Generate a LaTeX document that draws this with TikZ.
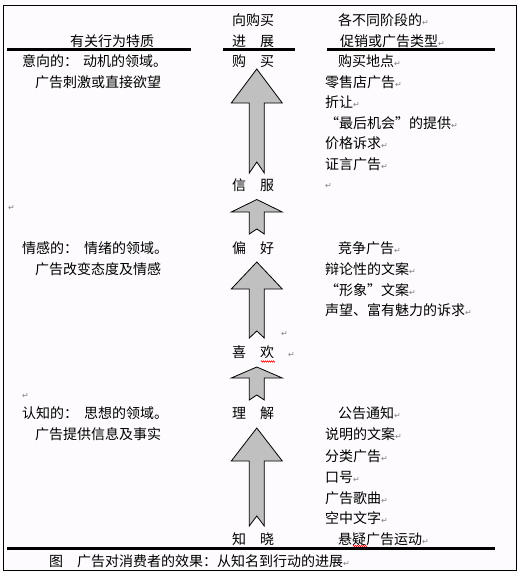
\documentclass[tikz,border=0pt]{standalone}
\usepackage{fontspec}
\setmainfont{Noto Sans CJK SC}
\newfontfamily\symfont{DejaVu Sans}
\usetikzlibrary{decorations.pathmorphing}
\definecolor{bgc}{RGB}{253,251,253}
\definecolor{arrowgray}{RGB}{192,192,192}
\definecolor{markgray}{RGB}{128,128,128}
\newcommand{\pmark}{{\symfont\fontsize{8}{8}\selectfont\textcolor{markgray}{↵}}}
\newcommand{\myoq}{\makebox[14pt][r]{“}}
\newcommand{\mycq}{\makebox[14pt][l]{”}}
\newcommand{\blockarrow}[4]{%
  \path[arrowshape] (256.8,#1) -- (282.3,#2) -- (264.3,#2) -- (264.3,#3)
    -- (256.8,#4) -- (249.3,#3) -- (249.3,#2) -- (231.3,#2) -- cycle;}
\begin{document}
\begin{tikzpicture}[x=1pt,y=-1pt,
  tx/.style={anchor=base west, inner sep=0pt, font=\fontsize{14}{16}\selectfont},
  mk/.style={anchor=base west, inner sep=0pt},
  rule/.style={line width=3pt},
  frame/.style={line width=1pt},
  arrowshape/.style={fill=arrowgray, draw=black, line width=0.8pt, line join=miter},
  spell/.style={draw=red, line width=0.5pt, decorate, decoration={zigzag, segment length=2pt, amplitude=0.7pt}}]
\useasboundingbox (0,0) rectangle (518,573);
\fill[bgc] (0,0) rectangle (518,573);
% frame
\draw[frame] (3.5,5.5) rectangle (516.5,570.5);
% header rules
\draw[rule] (7,49.3) -- (191,49.3);
\draw[rule] (223,49.3) -- (295,49.3);
\draw[rule] (327,49.3) -- (495,49.3);
\draw[rule] (7,548) -- (495,548);
% block arrows
\blockarrow{69}{103}{173}{162}
\blockarrow{199.5}{212}{234}{229}
\blockarrow{262}{289}{338}{331}
\blockarrow{367}{378}{400}{395}
\blockarrow{428}{461}{526}{516}
% headers
\node[tx] (h1) at (70,46.3) {有关行为特质};
\node[tx] (h2a) at (232,25.3) {向购买};
\node[tx] (h2b) at (232,46.3) {进　展};
\node[tx] (h3a) at (338,25.3) {各不同阶段的\pmark};
\node[tx] (h3b) at (340,46.3) {促销或广告类型\pmark};
% left column
\node[tx] (l1a) at (22,66.3) {意向的：};
\node[tx] (l1b) at (83,66.3) {动机的领域。};
\node[tx] (l1c) at (35,87.3) {广告刺激或直接欲望};
\node[mk] (m1) at (8,210) {\pmark};
\node[tx] (l2a) at (22,253.3) {情感的：};
\node[tx] (l2b) at (84,253.3) {情绪的领域。};
\node[tx] (l2c) at (35,274.3) {广告改变态度及情感};
\node[mk] (m2) at (22,398) {\pmark};
\node[tx] (l3a) at (22,418.3) {认知的：};
\node[tx] (l3b) at (84,418.3) {思想的领域。};
\node[tx] (l3c) at (35,439.3) {广告提供信息及事实};
% middle column
\node[tx] (c1) at (232,66.3) {购　买};
\node[tx] (c2) at (232,190.3) {信　服};
\node[tx] (c3) at (232,253.3) {偏　好};
\node[mk] (m3) at (281,336) {\pmark};
\node[tx] (c4) at (232,357.3) {喜　欢　\pmark};
\node[tx] (c5) at (232,418.3) {理　解};
\node[tx] (c6) at (232,544.3) {知　晓};
\draw[spell] (261,361.5) -- (275,361.5);
% right column
\node[tx] (r1) at (338,66.3) {购买地点\pmark};
\node[tx] (r2) at (325,87.3) {零售店广告\pmark};
\node[tx] (r3) at (325,107.3) {折让\pmark};
\node[tx] (r4) at (325,128.3) {\myoq 最后机会\mycq 的提供\pmark};
\node[tx] (r5) at (325,148.3) {价格诉求\pmark};
\node[tx] (r6) at (325,169.3) {证言广告\pmark};
\node[mk] (r7) at (325,188) {\pmark};
\node[tx] (r8) at (338,253.3) {竞争广告\pmark};
\node[tx] (r9) at (325,274.3) {辩论性的文案\pmark};
\node[tx] (r10) at (325,295.3) {\myoq 形象\mycq 文案\pmark};
\node[tx] (r11) at (325,315.3) {声望、富有魅力的诉求\pmark};
\node[tx] (r12) at (338,418.3) {公告通知\pmark};
\node[tx] (r13) at (325,439.3) {说明的文案\pmark};
\node[tx] (r14) at (325,461.3) {分类广告\pmark};
\node[tx] (r15) at (325,482.3) {口号\pmark};
\node[tx] (r16) at (325,503.3) {广告歌曲\pmark};
\node[tx] (r17) at (325,523.3) {空中文字\pmark};
\node[tx] (r18) at (338,544.3) {悬疑广告运动\pmark};
\draw[spell] (353,546) -- (367,546);
% caption
\node[tx] (cap) at (49,566.3) {图　广告对消费者的效果：从知名到行动的进展\pmark};
\end{tikzpicture}
\end{document}
